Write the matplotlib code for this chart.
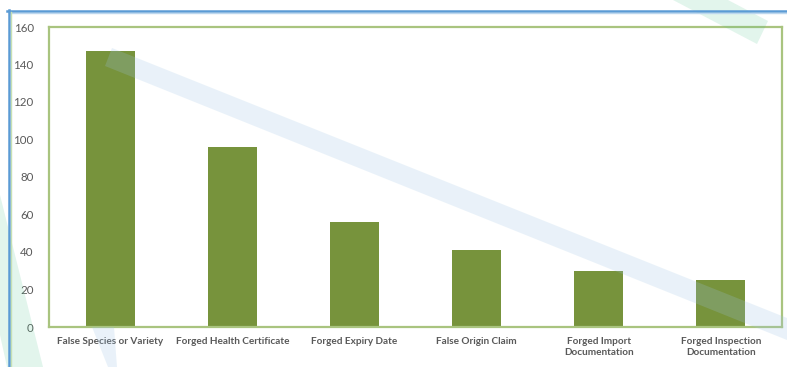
import matplotlib
matplotlib.use("Agg")
import matplotlib.pyplot as plt
from matplotlib.patches import Polygon
from matplotlib.lines import Line2D

# ---------- datos ----------
categories = [
    "False Species or Variety",
    "Forged Health Certificate",
    "Forged Expiry Date",
    "False Origin Claim",
    "Forged Import\nDocumentation",
    "Forged Inspection\nDocumentation",
]
counts = [147, 96, 56, 41, 30, 25]
y_ticks = [0, 20, 40, 60, 80, 100, 120, 140, 160]

BAR_COLOR = "#77933C"
FRAME_COLOR = "#A9C47F"
TEXT_COLOR = "#595959"

W, H = 787, 367
plt.rcParams["font.family"] = ["Lato", "DejaVu Sans"]

fig = plt.figure(figsize=(W / 100, H / 100), dpi=100)
fig.patch.set_facecolor("white")


def px(x, y):
    # píxeles (origen arriba-izquierda) -> coordenadas de figura
    return (x / W, 1 - y / H)


ax = fig.add_axes([49 / W, 1 - 327 / H, (782 - 49) / W, (327 - 27) / H])
ax.bar(range(len(categories)), counts, width=0.4, color=BAR_COLOR, zorder=2)
ax.set_xlim(-0.5, len(categories) - 0.5)
ax.set_ylim(0, 160)
ax.set_yticks(y_ticks)
ax.set_xticks(range(len(categories)))
ax.set_xticklabels(categories, fontsize=7.2, fontweight="bold", color=TEXT_COLOR,
                   linespacing=1.3)
ax.tick_params(axis="y", length=0, pad=11, labelsize=8.3, labelcolor=TEXT_COLOR)
ax.tick_params(axis="x", length=0, pad=7)
for s in ax.spines.values():
    s.set_color(FRAME_COLOR)
    s.set_linewidth(1.6)

# ---------- marco azul ----------
fig.add_artist(Line2D([7 / W, 1], [1 - 10.5 / H] * 2, color="#5B9BD5", lw=1.8, zorder=3))
fig.add_artist(Line2D([9 / W, 1], [1 - 12.5 / H] * 2, color="#BDD7EE", lw=1.0, zorder=3))
fig.add_artist(Line2D([8.5 / W] * 2, [0, 1 - 10 / H], color="#5B9BD5", lw=1.8, zorder=3))
fig.add_artist(Line2D([10.5 / W] * 2, [0, 1 - 12 / H], color="#C6E0B4", lw=1.0, zorder=3))

# ---------- franjas decorativas ----------
blue_band = [(112, 48), (787, 318), (787, 340), (105, 66)]
blue_tail = [(92, 327), (114, 327), (117, 367), (108, 367)]
mint_top = [(673, 0), (728, 0), (768, 21), (757, 44)]
mint_left = [(0, 195), (43, 367), (7, 367), (0, 335)]

for pts in (blue_band, blue_tail):
    fig.add_artist(Polygon([px(*p) for p in pts], closed=True, transform=fig.transFigure,
                           facecolor="#9DC3E6", edgecolor="none", alpha=0.22, zorder=5))
for pts in (mint_top, mint_left):
    fig.add_artist(Polygon([px(*p) for p in pts], closed=True, transform=fig.transFigure,
                           facecolor="#4CC38A", edgecolor="none", alpha=0.16, zorder=1))

fig.savefig("out.png", dpi=100)
